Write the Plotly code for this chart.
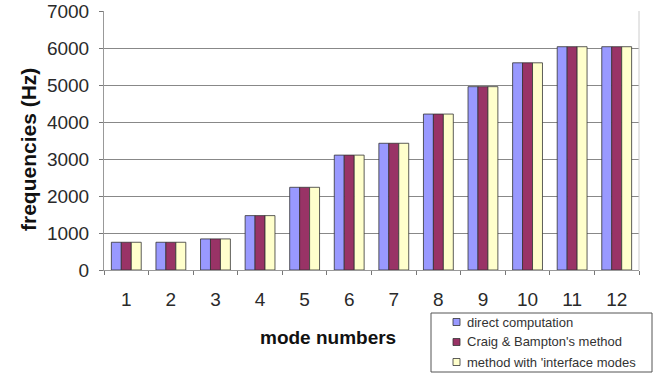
import plotly.graph_objects as go

modes = [str(i) for i in range(1, 13)]
direct = [750, 750, 840, 1470, 2235, 3105, 3425, 4215, 4955, 5600, 6035, 6035]
craig_bampton = [750, 750, 840, 1470, 2235, 3105, 3425, 4215, 4955, 5600, 6035, 6035]
interface_modes = [750, 750, 840, 1470, 2235, 3105, 3425, 4215, 4955, 5600, 6035, 6035]

series_names = ["direct computation", "Craig & Bampton's method",
                "method with 'interface modes"]
series_values = [direct, craig_bampton, interface_modes]
series_colors = ["#9999FF", "#993366", "#FFFFCC"]

W, H = 662, 376
L, R, T, B = 104, 23, 11, 106
PW, PH = W - L - R, H - T - B


def px_x(x):
    """pixel column -> paper x"""
    return (x - L) / PW


def px_y(y):
    """pixel row -> paper y"""
    return (H - B - y) / PH


fig = go.Figure()
for name, vals, color in zip(series_names, series_values, series_colors):
    fig.add_trace(go.Bar(
        x=modes, y=vals, name=name,
        marker=dict(color=color, line=dict(color="#333333", width=0.8)),
    ))

fig.update_layout(
    width=W, height=H,
    margin=dict(l=L, r=R, t=T, b=B, autoexpand=False),
    paper_bgcolor="white", plot_bgcolor="white",
    barmode="group", bargap=0.33, bargroupgap=0,
    font=dict(family="Arial, Liberation Sans, sans-serif", color="#2a2a2a"),
    showlegend=False,
)

fig.update_xaxes(
    type="category", showline=True, linecolor="#999999", linewidth=1,
    ticks="outside", tickson="boundaries", ticklen=4, tickcolor="#777777",
    tickfont=dict(size=19), ticklabelstandoff=12,
    showgrid=False, mirror=False,
)
fig.update_yaxes(
    range=[0, 7000], dtick=1000, showline=True, linecolor="#999999", linewidth=1,
    ticks="outside", ticklen=4, tickcolor="#777777",
    tickfont=dict(size=19), ticklabelstandoff=6,
    showgrid=True, gridcolor="#888888", gridwidth=1, zeroline=False,
)

# right-hand border of the plot area
fig.add_shape(type="line", xref="paper", yref="paper", x0=1, x1=1, y0=0, y1=1,
              line=dict(color="#CCCCCC", width=1))

# legend box with swatches, below the plot on the right
fig.add_shape(type="rect", xref="paper", yref="paper",
              x0=px_x(431), x1=px_x(652), y0=px_y(372), y1=px_y(313),
              line=dict(color="#555555", width=1), fillcolor="white", layer="above")
for i, (name, color) in enumerate(zip(series_names, series_colors)):
    cy = 322 + 20 * i
    fig.add_shape(type="rect", xref="paper", yref="paper",
                  x0=px_x(453), x1=px_x(460), y0=px_y(cy + 3.5), y1=px_y(cy - 3.5),
                  line=dict(color="#333333", width=0.8), fillcolor=color, layer="above")
    fig.add_annotation(text=name, xref="paper", yref="paper",
                       x=px_x(465), y=px_y(cy), xanchor="left", yanchor="middle",
                       showarrow=False, font=dict(size=13, color="#333333"))

fig.add_annotation(text="<b>mode numbers</b>", xref="paper", yref="paper",
                   x=px_x(328), y=px_y(337),
                   showarrow=False, font=dict(size=19, color="#111111"),
                   xanchor="center", yanchor="middle")
fig.add_annotation(text="<b>frequencies (Hz)</b>", xref="paper", yref="paper",
                   x=px_x(28), y=px_y(150), textangle=-90,
                   showarrow=False, font=dict(size=21, color="#111111"),
                   xanchor="center", yanchor="middle")

fig.write_html("out.html")
